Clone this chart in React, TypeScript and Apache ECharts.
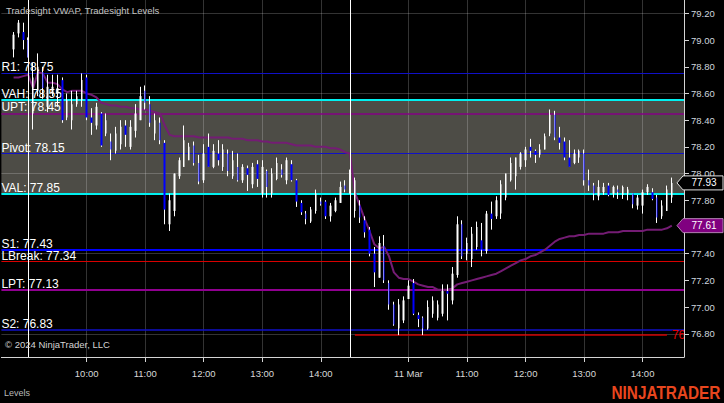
import React, { useEffect, useRef } from 'react';
import * as echarts from 'echarts';

// ---------- data ----------
// OHLC bars, 5-minute, [open, high, low, close]
const prevBars = [
  [78.93, 79.06, 78.87, 79.04],
  [79.05, 79.15, 79.02, 79.13],
  [79.06, 79.13, 78.93, 79.0],
  [79.0, 79.02, 78.87, 78.87],
];
const day1Bars = [
  [78.45, 78.83, 78.33, 78.72], [78.62, 78.9, 78.58, 78.8], [78.76, 78.8, 78.56, 78.64], [78.5, 78.74, 78.46, 78.65],
  [78.6, 78.74, 78.58, 78.65], [78.6, 78.74, 78.5, 78.64], [78.7, 78.72, 78.38, 78.4], [78.42, 78.6, 78.4, 78.55],
  [78.4, 78.62, 78.33, 78.52], [78.52, 78.62, 78.5, 78.58], [78.55, 78.75, 78.5, 78.7], [78.72, 78.74, 78.4, 78.42],
  [78.42, 78.49, 78.29, 78.38], [78.36, 78.53, 78.33, 78.5], [78.45, 78.46, 78.2, 78.21], [78.3, 78.45, 78.28, 78.4],
  [78.24, 78.3, 78.1, 78.18], [78.17, 78.35, 78.15, 78.3], [78.22, 78.4, 78.18, 78.35], [78.36, 78.4, 78.2, 78.29],
  [78.2, 78.4, 78.18, 78.35], [78.32, 78.52, 78.27, 78.45], [78.4, 78.65, 78.4, 78.58], [78.62, 78.66, 78.48, 78.53],
  [78.52, 78.58, 78.35, 78.38], [78.3, 78.45, 78.25, 78.4], [78.38, 78.42, 78.22, 78.25], [78.23, 78.25, 77.62, 77.73],
  [77.62, 77.85, 77.57, 77.8], [77.72, 78.0, 77.68, 78.0], [77.98, 78.12, 77.96, 78.1], [78.05, 78.36, 78.05, 78.25],
  [78.1, 78.23, 78.1, 78.2], [78.21, 78.24, 78.06, 78.08], [78.08, 78.14, 77.92, 77.94], [77.95, 78.22, 77.93, 78.15],
  [78.2, 78.3, 78.05, 78.05], [78.05, 78.22, 78.04, 78.17], [78.15, 78.25, 78.06, 78.1], [78.05, 78.22, 78.02, 78.18],
  [78.15, 78.18, 77.98, 78.02], [77.98, 78.17, 77.96, 78.1], [78.05, 78.15, 77.94, 77.95], [77.95, 78.07, 77.93, 78.05],
  [78.04, 78.06, 77.87, 77.99], [77.92, 78.08, 77.89, 78.05], [78.07, 78.1, 77.9, 77.96], [77.85, 78.1, 77.82, 78.05],
  [78.02, 78.03, 77.82, 77.9], [77.85, 78.04, 77.82, 78.0], [77.96, 78.12, 77.95, 78.08], [78.03, 78.07, 77.97, 77.99],
  [77.95, 78.12, 77.92, 78.1], [78.07, 78.1, 77.94, 77.95], [77.95, 77.96, 77.75, 77.79], [77.78, 77.8, 77.69, 77.71],
  [77.7, 77.72, 77.62, 77.66], [77.64, 77.75, 77.63, 77.73], [77.72, 77.88, 77.7, 77.85], [77.79, 77.82, 77.76, 77.77],
  [77.79, 77.8, 77.66, 77.68], [77.68, 77.78, 77.64, 77.76], [77.72, 77.82, 77.71, 77.8], [77.78, 77.94, 77.78, 77.9],
  [77.91, 77.95, 77.86, 77.88], [77.85, 78.03, 77.85, 78.0],
];
const day2Bars = [
  [77.72, 77.97, 77.67, 77.95], [77.76, 77.8, 77.63, 77.67], [77.65, 77.68, 77.52, 77.56], [77.58, 77.6, 77.38, 77.4],
  [77.4, 77.45, 77.15, 77.26], [77.22, 77.53, 77.22, 77.48], [77.46, 77.54, 77.18, 77.2], [77.18, 77.2, 76.98, 77.02],
  [77.02, 77.04, 76.86, 76.87], [76.84, 77.06, 76.79, 77.02], [76.9, 77.08, 76.88, 77.05], [77.06, 77.2, 77.06, 77.16],
  [77.18, 77.21, 76.94, 76.95], [76.94, 76.96, 76.85, 76.91], [76.92, 76.93, 76.79, 76.84], [76.84, 77.05, 76.83, 77.0],
  [76.95, 77.08, 76.92, 77.05], [76.92, 77.05, 76.9, 77.02], [76.95, 77.17, 76.93, 77.12], [77.12, 77.17, 76.9, 77.1],
  [77.05, 77.3, 77.02, 77.25], [77.24, 77.68, 77.22, 77.62], [77.62, 77.65, 77.36, 77.38], [77.4, 77.52, 77.35, 77.48],
  [77.36, 77.6, 77.3, 77.55], [77.45, 77.64, 77.43, 77.6], [77.5, 77.63, 77.38, 77.43], [77.42, 77.72, 77.4, 77.7],
  [77.7, 77.79, 77.58, 77.66], [77.68, 77.83, 77.66, 77.8], [77.7, 77.95, 77.66, 77.92], [77.82, 78.0, 77.8, 78.0],
  [77.95, 78.12, 77.94, 78.08], [77.98, 78.12, 77.88, 78.12], [78.05, 78.16, 78.03, 78.15], [78.1, 78.2, 78.05, 78.18],
  [78.2, 78.26, 78.12, 78.17], [78.17, 78.18, 78.08, 78.14], [78.14, 78.22, 78.12, 78.18], [78.18, 78.3, 78.18, 78.28],
  [78.3, 78.48, 78.28, 78.44], [78.44, 78.47, 78.25, 78.27], [78.27, 78.35, 78.18, 78.23], [78.24, 78.27, 78.1, 78.12],
  [78.12, 78.25, 78.05, 78.05], [78.08, 78.18, 78.07, 78.15], [78.12, 78.18, 78.08, 78.17], [78.15, 78.18, 77.91, 77.95],
  [77.95, 78.03, 77.87, 77.91], [77.91, 77.93, 77.8, 77.85], [77.83, 77.95, 77.8, 77.9], [77.86, 77.93, 77.84, 77.9],
  [77.91, 77.93, 77.83, 77.84], [77.85, 77.91, 77.82, 77.9], [77.88, 77.91, 77.81, 77.86], [77.84, 77.91, 77.81, 77.9],
  [77.85, 77.9, 77.8, 77.88], [77.85, 77.85, 77.74, 77.77], [77.76, 77.84, 77.73, 77.82], [77.76, 77.88, 77.7, 77.86],
  [77.86, 77.92, 77.84, 77.9], [77.86, 77.89, 77.8, 77.81], [77.82, 77.84, 77.63, 77.67], [77.68, 77.8, 77.66, 77.76],
  [77.72, 77.91, 77.72, 77.88], [77.82, 77.97, 77.78, 77.93],
];
const prevVwap = [78.72, 78.72, 78.73, 78.74];
const day1Vwap = [
  78.64, 78.76, 78.75, 78.68, 78.68, 78.67, 78.63, 78.61, 78.62, 78.62, 78.62, 78.6, 78.59, 78.57, 78.53, 78.52,
  78.51, 78.51, 78.5, 78.5, 78.49, 78.49, 78.48, 78.48, 78.47, 78.46, 78.45, 78.36, 78.29, 78.28, 78.28, 78.28,
  78.28, 78.28, 78.27, 78.27, 78.27, 78.27, 78.27, 78.27, 78.27, 78.26, 78.26, 78.26, 78.25, 78.25, 78.25, 78.24,
  78.24, 78.23, 78.23, 78.23, 78.23, 78.22, 78.21, 78.21, 78.21, 78.21, 78.2, 78.2, 78.2, 78.19, 78.19, 78.18,
  78.16, 78.15,
];
const day2Vwap = [
  77.86, 77.76, 77.66, 77.57, 77.47, 77.44, 77.45, 77.38, 77.26, 77.22, 77.21, 77.21, 77.19, 77.17, 77.16, 77.15,
  77.15, 77.13, 77.13, 77.13, 77.14, 77.17, 77.18, 77.19, 77.2, 77.21, 77.22, 77.23, 77.24, 77.25, 77.27, 77.29,
  77.31, 77.33, 77.35, 77.36, 77.38, 77.39, 77.41, 77.43, 77.46, 77.49, 77.51, 77.52, 77.53, 77.53, 77.54, 77.54,
  77.55, 77.55, 77.55, 77.55, 77.56, 77.56, 77.56, 77.57, 77.57, 77.57, 77.57, 77.57, 77.58, 77.58, 77.58, 77.58,
  77.59, 77.61,
];
const sessionDates = ['2024-03-07', '2024-03-08', '2024-03-11'];
const sessionStarts = ['14:15', '09:05', '09:05'];
const levelNames = ['R1', 'VAH', 'UPT', 'Pivot', 'VAL', 'S1', 'LBreak', 'LPT', 'S2'];
const levelValues = [78.75, 78.55, 78.45, 78.15, 77.85, 77.43, 77.34, 77.13, 76.83];
const dayLow = 76.79;
const gridPrices = [79.2, 78.6, 78.0, 77.4, 76.8];
const monthNames = ['Jan', 'Feb', 'Mar', 'Apr', 'May', 'Jun', 'Jul', 'Aug', 'Sep', 'Oct', 'Nov', 'Dec'];

// ---------- styles ----------
const levelColors = ['#1010c8', '#00f0f0', '#850085', '#1010c8', '#00f0f0', '#0000ff', '#d80000', '#900090', '#1010c8'];
const levelWidths = [1, 2, 1.5, 1, 2, 2, 1, 2, 1.5];
const FONT = '"Liberation Sans", Arial, sans-serif';

function buildTimes(date: string, start: string, count: number): string[] {
  const [h0, m0] = start.split(':').map(Number);
  const out: string[] = [];
  let t = h0 * 60 + m0;
  for (let i = 0; i < count; i++) {
    const h = Math.floor(t / 60);
    const m = t % 60;
    out.push(`${date} ${String(h).padStart(2, '0')}:${String(m).padStart(2, '0')}`);
    t += 5;
  }
  return out;
}

export default function App() {
  const ref = useRef<HTMLDivElement>(null);
  useEffect(() => {
    const chart = echarts.init(ref.current!, null, { renderer: 'svg' });
    const sessions = [prevBars, day1Bars, day2Bars];
    const times = sessions.flatMap((b, i) => buildTimes(sessionDates[i], sessionStarts[i], b.length));
    const bars = sessions.flat();
    const vwap = [...prevVwap, ...day1Vwap, ...day2Vwap];
    const padL = ['padL0', 'padL1'];
    const padR = ['padR0', 'padR1'];
    const categories = [...padL, ...times, ...padR];
    const blank4 = ['-', '-', '-', '-'];
    const wickData = [...padL.map(() => blank4), ...bars.map((b) => [b[0], b[3], b[2], b[1]]), ...padR.map(() => blank4)];
    const bodyData = [
      ...padL.map(() => blank4),
      ...bars.map((b) => [b[0], b[3], Math.min(b[0], b[3]), Math.max(b[0], b[3])]),
      ...padR.map(() => blank4),
    ];
    const vwapData = [...padL.map(() => '-'), ...vwap, ...padR.map(() => '-')];
    const lastClose = bars[bars.length - 1][3];
    const lastVwap = vwap[vwap.length - 1];

    const isHour = (_i: number, v: string) => typeof v === 'string' && v.endsWith(':00');
    const hourCats = categories.filter((c) => c.endsWith(':00'));
    const fmtX = (v: string) => {
      if (!v.endsWith(':00')) return '';
      const idx = hourCats.indexOf(v);
      const prev = idx > 0 ? hourCats[idx - 1] : null;
      const d = v.slice(0, 10);
      if (prev && prev.slice(0, 10) !== d) {
        return `${Number(d.slice(8, 10))} ${monthNames[Number(d.slice(5, 7)) - 1]}`;
      }
      return v.slice(11);
    };
    const sessionEnds = [times[prevBars.length - 1], times[prevBars.length + day1Bars.length - 1]];
    const day2First = times[prevBars.length + day1Bars.length];
    const day2NearEnd = times[times.length - 2];
    const lowEndIndex = categories.indexOf(day2NearEnd);
    const vah = levelValues[levelNames.indexOf('VAH')];
    const val = levelValues[levelNames.indexOf('VAL')];

    const option: any = {
      animation: false,
      backgroundColor: '#000000',
      grid: { left: 1.4, right: 40, top: 0, bottom: 46, containLabel: false },
      xAxis: {
        type: 'category',
        data: categories,
        boundaryGap: true,
        axisLine: { show: true, lineStyle: { color: '#d4d4d4', width: 1 } },
        axisTick: { show: true, alignWithLabel: true, interval: isHour, length: 5, lineStyle: { color: '#d4d4d4' } },
        axisLabel: { interval: isHour, formatter: fmtX, color: '#d8d8d8', fontSize: 9.5, fontFamily: FONT, margin: 11 },
        splitLine: { show: false },
      },
      yAxis: {
        type: 'value',
        position: 'right',
        min: 76.626,
        max: 79.3,
        splitNumber: 13,
        z: 10,
        axisLine: { show: true, lineStyle: { color: '#d4d4d4', width: 1 } },
        axisTick: { show: true, length: 5, lineStyle: { color: '#d4d4d4' } },
        axisLabel: {
          showMinLabel: false,
          showMaxLabel: false,
          // the tick label hidden under the VWAP price marker is left out
          formatter: (v: number) => (Math.abs(v - lastVwap) < 0.04 ? '' : v.toFixed(2)),
          color: '#cfd6de',
          fontSize: 9.5,
          fontFamily: FONT,
          margin: 7,
        },
        splitLine: { show: false },
      },
      series: [
        {
          type: 'line',
          name: 'band',
          data: [],
          markArea: { silent: true, z: 1, itemStyle: { color: '#4d4c46' }, data: [[{ yAxis: val }, { yAxis: vah }]] },
        },
        {
          type: 'line',
          name: 'grid',
          data: [],
          markLine: {
            silent: true,
            z: 2,
            symbol: ['none', 'none'],
            label: { show: false },
            lineStyle: { color: 'rgba(255,255,255,0.2)', width: 1, type: 'solid' },
            data: [...gridPrices.map((v) => ({ yAxis: v })), ...hourCats.map((c) => ({ xAxis: c }))],
          },
        },
        {
          type: 'line',
          name: 'levels',
          data: [],
          markLine: {
            silent: true,
            z: 3,
            symbol: ['none', 'none'],
            label: {
              show: true,
              position: 'insideStartTop',
              distance: [0, 0],
              color: '#ffffff',
              fontSize: 12,
              fontFamily: FONT,
              formatter: (p: any) => `${p.name}: ${Number(p.value).toFixed(2)}`,
            },
            data: levelNames.map((n, i) => ({
              name: n,
              yAxis: levelValues[i],
              lineStyle: { color: levelColors[i], width: levelWidths[i], type: 'solid' },
            })),
          },
        },
        {
          type: 'line',
          name: 'low',
          data: [],
          markLine: {
            silent: true,
            z: 3,
            symbol: ['none', 'none'],
            lineStyle: { color: '#d00000', width: 1.5, type: 'solid' },
            label: { show: false },
            data: [[{ xAxis: day2First, yAxis: dayLow }, { xAxis: day2NearEnd, yAxis: dayLow }]],
          },
        },
        {
          type: 'custom',
          name: 'lowLabel',
          z: 3,
          clip: true,
          data: [[lowEndIndex, dayLow]],
          renderItem: (_params: any, api: any) => {
            const p = api.coord([api.value(0), api.value(1)]);
            return {
              type: 'text',
              x: p[0] + 5,
              y: p[1],
              style: {
                text: Number(api.value(1)).toFixed(2),
                fill: '#e00000',
                font: `12px ${FONT}`,
                verticalAlign: 'middle',
                textVerticalAlign: 'middle',
              },
            };
          },
        },
        {
          type: 'line',
          name: 'VWAP',
          z: 4,
          data: vwapData,
          showSymbol: false,
          symbol: 'none',
          lineStyle: { color: '#741c74', width: 2 },
        },
        {
          type: 'candlestick',
          name: 'wicks',
          z: 5,
          data: wickData,
          barWidth: 0.01,
          itemStyle: { color: '#ffffff', color0: '#ffffff', borderColor: '#ffffff', borderColor0: '#ffffff', borderColorDoji: '#ffffff', borderWidth: 1 },
        },
        {
          type: 'candlestick',
          name: 'bodies',
          z: 6,
          data: bodyData,
          barWidth: 2,
          itemStyle: { color: '#ffffff', color0: '#0000ff', borderColor: '#ffffff', borderColor0: '#0000ff', borderColorDoji: '#ffffff', borderWidth: 0 },
        },
        {
          type: 'line',
          name: 'sessions',
          data: [],
          markLine: {
            silent: true,
            z: 7,
            symbol: ['none', 'none'],
            label: { show: false },
            lineStyle: { color: '#ffffff', width: 1, type: 'solid' },
            data: sessionEnds.map((c) => ({ xAxis: c })),
          },
        },
      ],
    };
    chart.setOption(option);

    const yClose = chart.convertToPixel({ yAxisIndex: 0 }, lastClose) as number;
    const yVwap = chart.convertToPixel({ yAxisIndex: 0 }, lastVwap) as number;
    const marker = (y: number, fill: string, stroke: string, text: string) => [
      {
        type: 'polygon',
        z: 12,
        shape: { points: [[677, y], [683, y - 7], [723, y - 7], [723, y + 7], [683, y + 7]] },
        style: { fill, stroke, lineWidth: 1 },
      },
      {
        type: 'text',
        z: 13,
        x: 704,
        y,
        style: { text, fill: '#ffffff', font: `10px ${FONT}`, textAlign: 'center', textVerticalAlign: 'middle' },
      },
    ];
    chart.setOption({
      graphic: [
        {
          type: 'text', x: 6, y: 10.5, z: 12,
          style: { text: 'Tradesight VWAP, Tradesight Levels', fill: '#c4c4c4', font: `9.5px ${FONT}`, textVerticalAlign: 'middle' },
        },
        {
          type: 'text', x: 5, y: 344, z: 12,
          style: { text: '\u00a9 2024 NinjaTrader, LLC', fill: '#d4d4d4', font: `9.5px ${FONT}`, textVerticalAlign: 'middle' },
        },
        {
          type: 'text', x: 4, y: 393, z: 12,
          style: { text: 'Levels', fill: '#b8b8b8', font: `9px ${FONT}`, textVerticalAlign: 'middle' },
        },
        {
          type: 'text', x: 611.5, y: 393.5, z: 12, scaleX: 0.83,
          style: { text: 'NINJATRADER', fill: '#e8461e', font: `bold 18.5px ${FONT}`, textVerticalAlign: 'middle' },
        },
        ...marker(yClose, '#000000', '#e0e0e0', lastClose.toFixed(2)),
        ...marker(yVwap, '#800080', '#b080b0', lastVwap.toFixed(2)),
      ],
    });
    return () => chart.dispose();
  }, []);
  return (
    <div style={{ position: 'fixed', left: 0, top: 0, width: 724, height: 403, background: '#000' }}>
      <div ref={ref} style={{ width: 724, height: 403 }} />
    </div>
  );
}
